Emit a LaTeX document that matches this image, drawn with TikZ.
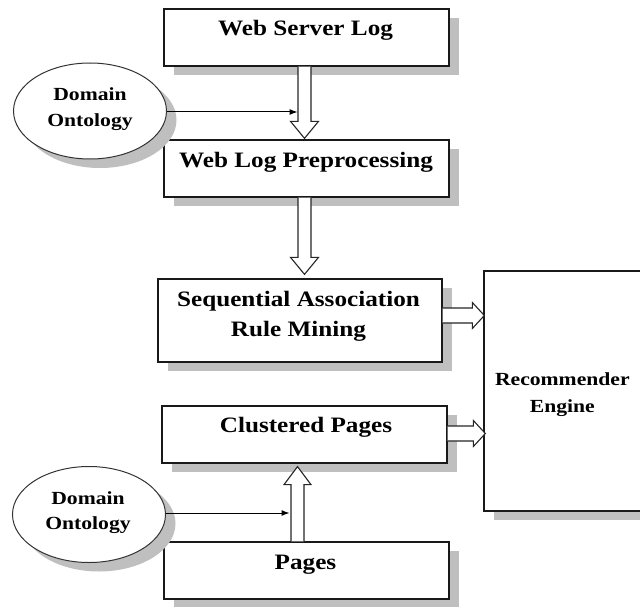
\documentclass[tikz,border=0pt]{standalone}
\usepackage{fontspec}
\setmainfont{Liberation Serif}
\usepackage{graphicx}
\usetikzlibrary{calc,shapes.geometric,shadows,arrows.meta}

% slightly widened bold lettering
\newcommand\widebig[1]{\scalebox{1.145}[1]{#1}}
\newcommand\widesmall[1]{\scalebox{1.17}[1]{#1}}

% hollow block arrows: start point on the source border, tip point
\newcommand\downblock[2]{\draw[blockarr] ($(#1)+(-6.5,0)$) -- ($(#2)+(-6.5,-17)$) -- ($(#2)+(-14,-17)$) -- (#2) -- ($(#2)+(14,-17)$) -- ($(#2)+(6.5,-17)$) -- ($(#1)+(6.5,0)$);}
\newcommand\upblock[2]{\draw[blockarr] ($(#1)+(-6.5,0)$) -- ($(#2)+(-6.5,18)$) -- ($(#2)+(-13.5,18)$) -- (#2) -- ($(#2)+(13.5,18)$) -- ($(#2)+(6.5,18)$) -- ($(#1)+(6.5,0)$);}
\newcommand\rightblock[2]{\draw[blockarr] ($(#1)+(0,-7.5)$) -- ($(#2)+(-12,-7.5)$) -- ($(#2)+(-12,-13)$) -- (#2) -- ($(#2)+(-12,13)$) -- ($(#2)+(-12,7.5)$) -- ($(#1)+(0,7.5)$);}

\tikzset{
  shadowed/.style={general shadow={fill=black!25, shadow xshift=10pt, shadow yshift=-9pt}},
  procbox/.style={rectangle, draw=black!90, line width=1.3pt, fill=white, inner sep=0pt,
    minimum width=285pt, minimum height=57pt, shadowed},
  ontology/.style={ellipse, draw=black!80, line width=1pt, fill=white, inner sep=0pt,
    minimum width=153pt, minimum height=96pt, shadowed},
  bigtxt/.style={anchor=base, inner sep=0pt, font=\bfseries\fontsize{22}{26}\selectfont},
  smalltxt/.style={anchor=base, inner sep=0pt, font=\bfseries\fontsize{18.5}{22}\selectfont},
  blockarr/.style={draw=black!85, line width=1.1pt, fill=white, line join=miter},
  ptr/.style={draw=black, line width=1pt, -{Latex[length=8pt,width=6pt]}},
}

\begin{document}
\begin{tikzpicture}[x=1pt,y=-1pt]
\useasboundingbox (0,0) rectangle (640,607);
\clip (0,0) rectangle (640,607);

% process boxes
\node[procbox] (wsl) at (306.5,37.5) {};
\node[procbox] (wlp) at (306.5,168.5) {};
\node[procbox, minimum width=284pt, minimum height=83pt] (sarm) at (300,320.5) {};
\node[procbox] (clp) at (304.5,434.5) {};
\node[procbox] (pg) at (306.5,570.5) {};
\node[procbox, minimum width=166pt, minimum height=240pt] (rec) at (567,391) {};

% ontology ellipses
\node[ontology] (ont1) at (90,111) {};
\node[ontology] (ont2) at (89,514.5) {};

% box labels
\node[bigtxt] (l-wsl) at ($(wsl.north)+(-1,27)$) {\widebig{Web Server Log}};
\node[bigtxt] (l-wlp) at ($(wlp.north)+(-0.5,28)$) {\widebig{Web Log Preprocessing}};
\node[bigtxt] (l-sarm1) at ($(sarm.north)+(-1.5,28)$) {\widebig{Sequential Association}};
\node[bigtxt] (l-sarm2) at ($(sarm.north)+(-1.5,58)$) {\widebig{Rule Mining}};
\node[bigtxt] (l-clp) at ($(clp.north)+(1.5,27)$) {\widebig{Clustered Pages}};
\node[bigtxt] (l-pg) at ($(pg.north)+(-1,28)$) {\widebig{Pages}};
\node[smalltxt] (l-rec1) at ($(rec.west)+(79,-6)$) {\widesmall{Recommender}};
\node[smalltxt] (l-rec2) at ($(rec.west)+(79,21)$) {\widesmall{Engine}};
\node[smalltxt] (l-ont1a) at ($(ont1.center)+(0,-10)$) {\widesmall{Domain}};
\node[smalltxt] (l-ont1b) at ($(ont1.center)+(0,16)$) {\widesmall{Ontology}};
\node[smalltxt] (l-ont2a) at ($(ont2.center)+(-1,-10.5)$) {\widesmall{Domain}};
\node[smalltxt] (l-ont2b) at ($(ont2.center)+(-1,14.5)$) {\widesmall{Ontology}};

% block arrow end points
\coordinate (a1s) at ($(wsl.south)+(-2,0)$);
\coordinate (a1t) at ($(a1s |- wlp.north)+(0,-1)$);
\coordinate (a2s) at ($(wlp.south)+(-2,0)$);
\coordinate (a2t) at ($(a2s |- sarm.north)+(0,-4)$);
\coordinate (a3s) at ($(sarm.east)+(0,-5)$);
\coordinate (a3t) at ($(a3s -| rec.west)+(1,0)$);
\coordinate (a4s) at ($(clp.east)+(0,-1)$);
\coordinate (a4t) at ($(a4s -| rec.west)+(2,0)$);
\coordinate (a5s) at ($(pg.north)+(-9,0)$);
\coordinate (a5t) at ($(a5s |- clp.south)+(0,3)$);

\downblock{a1s}{a1t}
\downblock{a2s}{a2t}
\rightblock{a3s}{a3t}
\rightblock{a4s}{a4t}
\upblock{a5s}{a5t}

% ontology inputs
\coordinate (p1) at ($(ont1.east -| a1s)+(-7,1)$);
\coordinate (p2) at ($(ont2.east -| a5s)+(-8,-1.5)$);
\draw[ptr] ($(ont1.east)+(0,1)$) -- (p1);
\draw[ptr] ($(ont2.east)+(0,-1.5)$) -- (p2);
\end{tikzpicture}
\end{document}
